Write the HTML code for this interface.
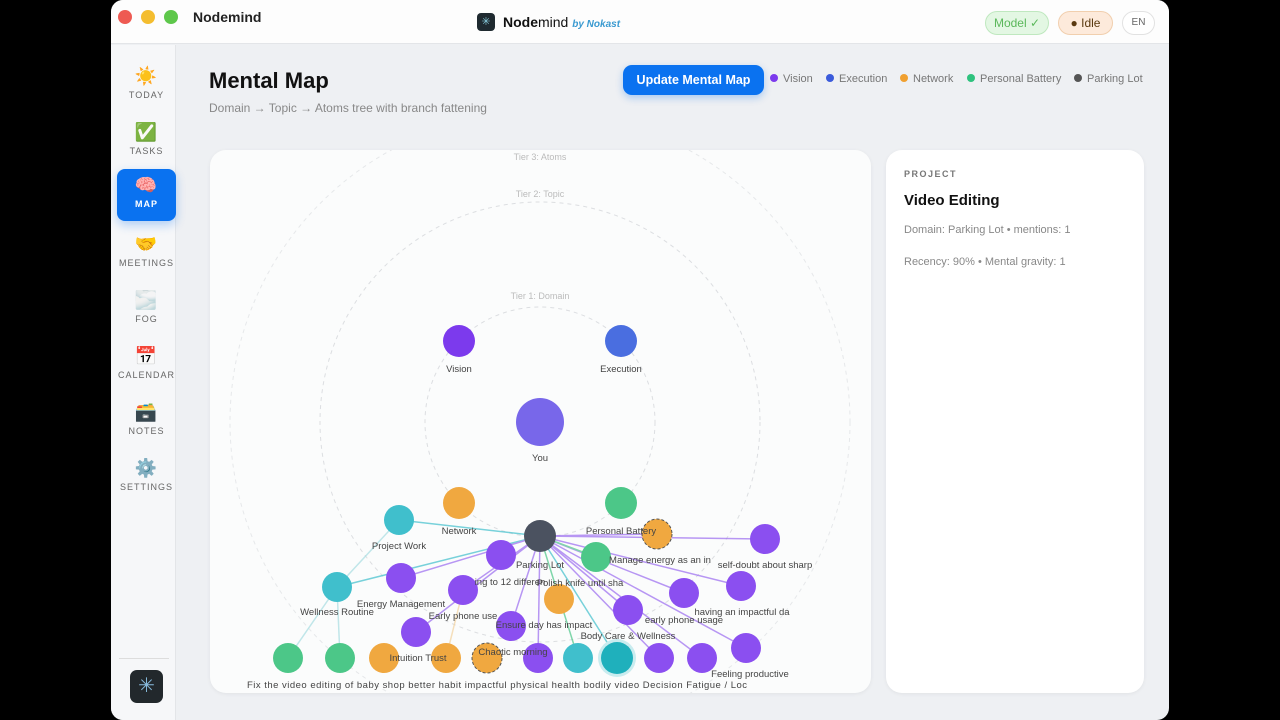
<!DOCTYPE html>
<html><head><meta charset="utf-8"><style>
*{margin:0;padding:0;box-sizing:border-box}
body{width:1280px;height:720px;background:#000;font-family:"Liberation Sans",sans-serif;position:relative;overflow:hidden}
.win{position:absolute;left:111px;top:0;width:1058px;height:720px;background:#eef0f3;border-radius:12px;overflow:hidden}
.title{position:absolute;left:0;top:0;width:100%;height:44px;background:#fdfdfd;border-bottom:1px solid #e3e5e8}
.dot{position:absolute;top:10px;width:14px;height:14px;border-radius:50%}
.side{position:absolute;left:0;top:45px;width:65px;height:675px;background:#f6f7f9;border-right:1px solid #e3e5e8}
.nav{position:absolute;left:6px;width:59px;height:52px;text-align:center;font-size:9px;letter-spacing:1px;color:#666}
.nav .ic{font-size:18px;height:27px;line-height:27px;margin-top:3px}
.pill{position:absolute;top:11px;height:24px;border-radius:12px;font-size:12px;line-height:22px;text-align:center}
.card{position:absolute;background:#fbfcfc;border-radius:16px;box-shadow:0 1px 4px rgba(0,0,0,.06)}
.leg{position:absolute;top:73px;font-size:11px;color:#777}
.leg i{display:inline-block;width:8px;height:8px;border-radius:50%;margin-right:5px;vertical-align:0}
</style></head><body>
<div class="win">
<div class="title">
<div class="dot" style="left:7px;background:#ee5a52"></div>
<div class="dot" style="left:30px;background:#f4bd2f"></div>
<div class="dot" style="left:53px;background:#5ec74b"></div>
<div style="position:absolute;left:82px;top:9px;font-size:14px;font-weight:bold;color:#222">Nodemind</div>
<div style="position:absolute;left:366px;top:13px;width:18px;height:18px;border-radius:4px;background:#1f2a30;color:#8cd;font-size:11px;text-align:center;line-height:18px">✳</div>
<div style="position:absolute;left:392px;top:14px;font-size:14px;color:#111"><b>Node</b>mind <i style="font-size:10px;color:#3a9ad0;font-weight:bold">by Nokast</i></div>
<div class="pill" style="left:874px;width:64px;background:#e3f7e3;border:1px solid #bfe8bf;color:#5bb85b">Model ✓</div>
<div class="pill" style="left:947px;width:55px;background:#fdeadb;border:1px solid #f1cfae;color:#5a3a10">● Idle</div>
<div class="pill" style="left:1011px;width:33px;background:#fff;border:1px solid #e2e2e2;color:#666;font-size:10px">EN</div>
</div>
<div class="side">
<div class="nav" style="top:15px"><div class="ic">☀️</div>TODAY</div>
<div class="nav" style="top:71px"><div class="ic">✅</div>TASKS</div>
<div class="nav" style="top:124px;background:#0a72f0;color:#fff;border-radius:8px;font-weight:bold;box-shadow:0 4px 10px rgba(10,114,240,.3)"><div class="ic">🧠</div>MAP</div>
<div class="nav" style="top:183px"><div class="ic">🤝</div>MEETINGS</div>
<div class="nav" style="top:239px"><div class="ic">🌫️</div>FOG</div>
<div class="nav" style="top:295px"><div class="ic">📅</div>CALENDAR</div>
<div class="nav" style="top:351px"><div class="ic">🗃️</div>NOTES</div>
<div class="nav" style="top:407px"><div class="ic">⚙️</div>SETTINGS</div>
<div style="position:absolute;left:8px;top:613px;width:50px;border-top:1px solid #ddd"></div>
<div style="position:absolute;left:19px;top:625px;width:33px;height:33px;border-radius:7px;background:#22282c;color:#8bd;text-align:center;line-height:33px;font-size:20px">✳</div>
</div>
<div style="position:absolute;left:98px;top:68px;font-size:22px;font-weight:bold;color:#111">Mental Map</div>
<div style="position:absolute;left:98px;top:101px;font-size:12px;color:#888">Domain → Topic → Atoms tree with branch fattening</div>
<div style="position:absolute;left:512px;top:65px;width:141px;height:30px;border-radius:9px;background:#0a72f0;color:#fff;font-size:12.5px;font-weight:bold;text-align:center;line-height:30px;box-shadow:0 3px 8px rgba(10,114,240,.3)">Update Mental Map</div>
<div class="leg" style="left:659px"><i style="background:#7c3aed"></i>Vision</div>
<div class="leg" style="left:715px"><i style="background:#3b5bdb"></i>Execution</div>
<div class="leg" style="left:789px"><i style="background:#f0a030"></i>Network</div>
<div class="leg" style="left:856px"><i style="background:#2ec27e"></i>Personal Battery</div>
<div class="leg" style="left:963px"><i style="background:#555"></i>Parking Lot</div>
<div class="card" style="left:99px;top:150px;width:661px;height:543px"></div>
<div class="card" style="left:775px;top:150px;width:258px;height:543px;background:#fff">
<div style="position:absolute;left:18px;top:19px;font-size:9px;letter-spacing:1.5px;color:#777;font-weight:bold">PROJECT</div>
<div style="position:absolute;left:18px;top:42px;font-size:15px;font-weight:bold;color:#111">Video Editing</div>
<div style="position:absolute;left:18px;top:74px;font-size:11px;color:#888">Domain: Parking Lot • mentions: 1</div>
<div style="position:absolute;left:18px;top:106px;font-size:11px;color:#888">Recency: 90% • Mental gravity: 1</div>
</div>
</div>
<svg width="1280" height="720" style="position:absolute;left:0;top:0" font-family="Liberation Sans, sans-serif" font-size="9.5" text-anchor="middle">
<defs><clipPath id="c"><rect x="210" y="150" width="661" height="543" rx="16"/></clipPath></defs>
<g clip-path="url(#c)">
<g fill="none" stroke="#dcdee1" stroke-dasharray="4 4">
<circle cx="540" cy="422" r="115"/><circle cx="540" cy="422" r="220"/><circle cx="540" cy="422" r="310" stroke="#e6e8ea"/>
</g>
<g fill="#bbb" font-size="9"><text x="540" y="160">Tier 3: Atoms</text><text x="540" y="197">Tier 2: Topic</text><text x="540" y="299">Tier 1: Domain</text></g>
<g stroke-width="1.5" opacity=".7">
<line x1="540" y1="536" x2="399" y2="520" stroke="#40bfcc"/>
<line x1="540" y1="536" x2="337" y2="587" stroke="#40bfcc"/>
<line x1="540" y1="536" x2="401" y2="578" stroke="#9b6cf0"/>
<line x1="540" y1="536" x2="765" y2="539" stroke="#9b6cf0"/>
<line x1="540" y1="536" x2="741" y2="586" stroke="#9b6cf0"/>
<line x1="540" y1="536" x2="684" y2="593" stroke="#9b6cf0"/>
<line x1="540" y1="536" x2="628" y2="610" stroke="#9b6cf0"/>
<line x1="540" y1="536" x2="746" y2="648" stroke="#9b6cf0"/>
<line x1="540" y1="536" x2="702" y2="658" stroke="#9b6cf0"/>
<line x1="540" y1="536" x2="659" y2="658" stroke="#9b6cf0"/>
<line x1="540" y1="536" x2="617" y2="658" stroke="#40bfcc"/>
<line x1="540" y1="536" x2="578" y2="658" stroke="#4cc788"/>
<line x1="540" y1="536" x2="538" y2="658" stroke="#9b6cf0"/>
<line x1="540" y1="536" x2="511" y2="626" stroke="#9b6cf0"/>
<line x1="540" y1="536" x2="463" y2="590" stroke="#9b6cf0"/>
<line x1="540" y1="536" x2="416" y2="632" stroke="#9b6cf0"/>
<line x1="540" y1="536" x2="596" y2="557" stroke="#4cc788"/>
<line x1="540" y1="536" x2="657" y2="534" stroke="#9b6cf0"/>
<line x1="399" y1="520" x2="337" y2="587" stroke="#a8dde2"/>
<line x1="337" y1="587" x2="288" y2="658" stroke="#a8dde2"/>
<line x1="337" y1="587" x2="340" y2="658" stroke="#a8dde2"/>
<line x1="463" y1="590" x2="446" y2="658" stroke="#f3d3a0"/>
</g>
<g>
<circle cx="459" cy="341" r="16" fill="#7c3aed"/><circle cx="621" cy="341" r="16" fill="#4a6ee0"/>
<circle cx="540" cy="422" r="24" fill="#7867ea"/>
<circle cx="459" cy="503" r="16" fill="#f0a840"/><circle cx="621" cy="503" r="16" fill="#4cc788"/>
<circle cx="399" cy="520" r="15" fill="#40bfcc"/>
<circle cx="540" cy="536" r="16" fill="#4b5260"/>
<circle cx="657" cy="534" r="15" fill="#f0a840" stroke="#555" stroke-dasharray="3 2"/>
<circle cx="765" cy="539" r="15" fill="#8b4ff0"/>
<circle cx="501" cy="555" r="15" fill="#8b4ff0"/>
<circle cx="596" cy="557" r="15" fill="#4cc788"/>
<circle cx="337" cy="587" r="15" fill="#40bfcc"/>
<circle cx="401" cy="578" r="15" fill="#8b4ff0"/>
<circle cx="463" cy="590" r="15" fill="#8b4ff0"/>
<circle cx="559" cy="599" r="15" fill="#f0a840"/>
<circle cx="684" cy="593" r="15" fill="#8b4ff0"/>
<circle cx="741" cy="586" r="15" fill="#8b4ff0"/>
<circle cx="628" cy="610" r="15" fill="#8b4ff0"/>
<circle cx="511" cy="626" r="15" fill="#8b4ff0"/>
<circle cx="416" cy="632" r="15" fill="#8b4ff0"/>
<circle cx="746" cy="648" r="15" fill="#8b4ff0"/>
<circle cx="288" cy="658" r="15" fill="#4cc788"/><circle cx="340" cy="658" r="15" fill="#4cc788"/>
<circle cx="384" cy="658" r="15" fill="#f0a840"/><circle cx="446" cy="658" r="15" fill="#f0a840"/>
<circle cx="487" cy="658" r="15" fill="#f0a840" stroke="#555" stroke-dasharray="3 2"/>
<circle cx="538" cy="658" r="15" fill="#8b4ff0"/><circle cx="578" cy="658" r="15" fill="#40bfcc"/>
<circle cx="617" cy="658" r="19" fill="#c9ecef"/><circle cx="617" cy="658" r="16" fill="#1fb0bc"/>
<circle cx="659" cy="658" r="15" fill="#8b4ff0"/><circle cx="702" cy="658" r="15" fill="#8b4ff0"/>
</g>
<g fill="#444">
<text x="459" y="372">Vision</text><text x="621" y="372">Execution</text><text x="540" y="461">You</text>
<text x="459" y="534">Network</text><text x="621" y="534">Personal Battery</text>
<text x="399" y="549">Project Work</text><text x="540" y="568">Parking Lot</text>
<text x="660" y="563">Manage energy as an in</text><text x="765" y="568">self-doubt about sharp</text>
<text x="510" y="585">ing to 12 differen</text><text x="580" y="586">Polish knife until sha</text>
<text x="401" y="607">Energy Management</text><text x="337" y="615">Wellness Routine</text>
<text x="742" y="615">having an impactful da</text><text x="463" y="619">Early phone use</text>
<text x="684" y="623">early phone usage</text><text x="544" y="628">Ensure day has impact</text>
<text x="628" y="639">Body Care &amp; Wellness</text><text x="418" y="661">Intuition Trust</text>
<text x="513" y="655">Chaotic morning</text><text x="750" y="677">Feeling productive</text>
<text x="497" y="688" textLength="500">Fix the video editing of baby shop better habit impactful physical health bodily video Decision Fatigue / Loc</text>
</g>
</g>
</svg>
</body></html>
